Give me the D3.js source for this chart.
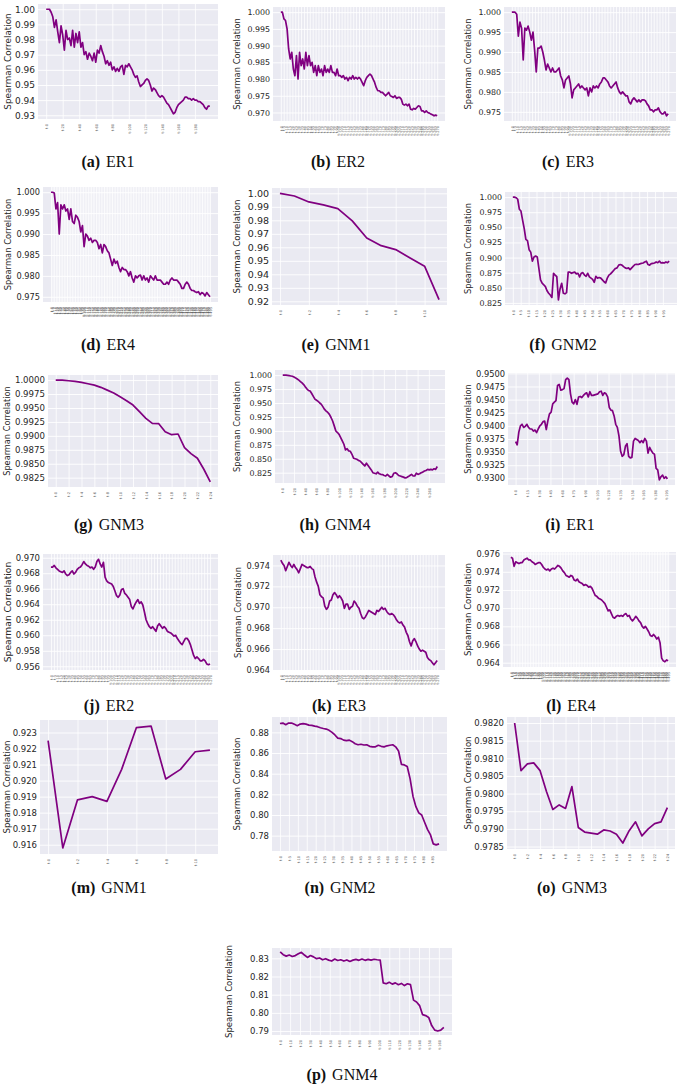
<!DOCTYPE html>
<html><head><meta charset="utf-8">
<script src="https://cdn.jsdelivr.net/npm/d3@7"></script>
<style>body{margin:0;background:#fff}svg{display:block}</style>
</head><body><svg id="c" width="685" height="1085"></svg>
<script>
// ---------- data ----------
const er1A = [1.000,1.000,1.000,0.998,0.995,0.988,0.993,0.985,0.978,0.989,0.983,0.973,0.986,0.980,0.981,0.976,0.986,0.975,0.984,0.978,0.985,0.975,0.978,0.970,0.972,0.967,0.971,0.969,0.966,0.971,0.965,0.973,0.971,0.976,0.972,0.969,0.964,0.966,0.963,0.965,0.960,0.962,0.959,0.961,0.959,0.962,0.963,0.957,0.963,0.962,0.964,0.962,0.960,0.957,0.955,0.956,0.952,0.949,0.950,0.951,0.953,0.954,0.953,0.950,0.946,0.948,0.947,0.945,0.943,0.942,0.943,0.942,0.940,0.938,0.937,0.935,0.933,0.931,0.932,0.935,0.937,0.938,0.939,0.940,0.942,0.942,0.941,0.941,0.940,0.941,0.940,0.940,0.939,0.939,0.938,0.937,0.935,0.934,0.936,0.936];
const er2B = [1.000,1.000,0.998,0.9975,0.995,0.989,0.986,0.988,0.983,0.981,0.987,0.980,0.988,0.984,0.986,0.983,0.988,0.984,0.987,0.984,0.985,0.982,0.984,0.981,0.984,0.982,0.983,0.981,0.984,0.982,0.983,0.982,0.984,0.982,0.982,0.981,0.983,0.981,0.981,0.9805,0.981,0.980,0.9805,0.9795,0.9805,0.980,0.981,0.980,0.9805,0.980,0.9805,0.980,0.979,0.978,0.9795,0.9805,0.981,0.9815,0.981,0.980,0.979,0.9775,0.9765,0.9765,0.976,0.976,0.9755,0.975,0.9755,0.976,0.975,0.9748,0.9745,0.975,0.9742,0.9745,0.9745,0.974,0.9725,0.9722,0.9725,0.972,0.9725,0.971,0.9708,0.9712,0.971,0.9715,0.972,0.9718,0.9705,0.9705,0.970,0.9705,0.970,0.9698,0.9695,0.9693,0.969,0.9692,0.969];
const er3C = [1.000,1.000,1.000,0.9995,0.994,0.9975,0.996,0.988,0.996,0.9955,0.9965,0.995,0.993,0.995,0.9905,0.985,0.991,0.991,0.9915,0.990,0.988,0.9855,0.987,0.986,0.985,0.986,0.985,0.985,0.9855,0.986,0.984,0.983,0.981,0.983,0.9835,0.984,0.982,0.9785,0.9805,0.981,0.9815,0.982,0.981,0.9815,0.981,0.9805,0.981,0.979,0.981,0.980,0.9815,0.981,0.9815,0.981,0.982,0.9825,0.9835,0.9835,0.983,0.9825,0.9815,0.981,0.9815,0.982,0.9825,0.981,0.980,0.9795,0.980,0.9795,0.979,0.979,0.9775,0.977,0.978,0.9785,0.978,0.9775,0.978,0.9775,0.978,0.978,0.9778,0.977,0.9765,0.9755,0.9755,0.975,0.9755,0.9755,0.976,0.975,0.9745,0.9745,0.975,0.974,0.9745];
const er4D = [1.000,1.000,0.9998,0.996,0.9975,0.990,0.997,0.996,0.997,0.9955,0.996,0.9935,0.996,0.993,0.9925,0.9945,0.994,0.993,0.9905,0.992,0.987,0.990,0.9895,0.9885,0.989,0.988,0.9885,0.9885,0.988,0.9865,0.9875,0.9855,0.9875,0.987,0.986,0.9855,0.984,0.9825,0.984,0.983,0.9835,0.982,0.981,0.982,0.9815,0.9815,0.981,0.980,0.981,0.9795,0.9785,0.980,0.9795,0.980,0.9802,0.979,0.980,0.979,0.9795,0.9785,0.980,0.9795,0.979,0.980,0.979,0.979,0.979,0.9785,0.978,0.978,0.9785,0.978,0.979,0.9795,0.979,0.979,0.979,0.9785,0.978,0.977,0.977,0.978,0.9785,0.978,0.977,0.9765,0.9765,0.9762,0.976,0.9762,0.9755,0.976,0.9758,0.9752,0.976,0.9755,0.975];
const gnm1E = [1.000,0.998,0.9936,0.9914,0.9887,0.9796,0.9669,0.9612,0.9583,0.9521,0.9460,0.9212];
const gnm2F = [1.000,1.000,0.999,0.9965,0.980,0.977,0.962,0.948,0.930,0.928,0.913,0.909,0.894,0.901,0.9025,0.901,0.882,0.863,0.8575,0.855,0.852,0.845,0.841,0.838,0.834,0.874,0.871,0.8685,0.830,0.848,0.8575,0.841,0.840,0.842,0.876,0.876,0.874,0.875,0.876,0.873,0.874,0.868,0.874,0.875,0.871,0.869,0.874,0.868,0.866,0.864,0.859,0.869,0.866,0.867,0.866,0.863,0.860,0.858,0.866,0.871,0.873,0.876,0.879,0.882,0.883,0.8875,0.8885,0.8875,0.885,0.883,0.882,0.883,0.880,0.883,0.8857,0.8885,0.889,0.8885,0.8895,0.8905,0.891,0.8927,0.894,0.8885,0.8875,0.890,0.8905,0.891,0.8927,0.8915,0.894,0.891,0.8915,0.891,0.8927,0.8915,0.894];
const gnm3G = [1.0000,1.0000,0.99988,0.99976,0.99958,0.99934,0.9991,0.9987,0.9982,0.9977,0.9970,0.9963,0.99552,0.99433,0.99314,0.99224,0.99218,0.99075,0.99021,0.99033,0.98788,0.98681,0.98598,0.98401,0.98174];
const gnm4H = [1.000,1.000,1.000,0.9995,0.999,0.9985,0.998,0.9965,0.995,0.993,0.991,0.9885,0.986,0.983,0.979,0.9755,0.9725,0.9715,0.967,0.962,0.957,0.955,0.953,0.950,0.9475,0.943,0.9385,0.9355,0.933,0.9296,0.924,0.9177,0.909,0.8998,0.897,0.8938,0.888,0.882,0.876,0.8658,0.868,0.864,0.8634,0.858,0.851,0.850,0.849,0.847,0.846,0.843,0.840,0.837,0.842,0.838,0.834,0.830,0.825,0.824,0.823,0.826,0.823,0.822,0.8216,0.820,0.819,0.822,0.819,0.8168,0.818,0.824,0.825,0.823,0.820,0.819,0.818,0.817,0.8157,0.8162,0.818,0.820,0.822,0.819,0.819,0.824,0.822,0.823,0.825,0.826,0.828,0.829,0.831,0.830,0.831,0.830,0.832,0.831,0.836];
const er1I = [0.9370,0.9364,0.9388,0.9400,0.9403,0.9397,0.9399,0.9403,0.9397,0.9394,0.9394,0.9390,0.9392,0.9387,0.9394,0.9400,0.9403,0.9408,0.9409,0.9393,0.9410,0.9423,0.9426,0.9442,0.9445,0.9448,0.9477,0.9479,0.9468,0.9469,0.9471,0.9488,0.9491,0.9488,0.9461,0.9445,0.9442,0.9450,0.9441,0.9455,0.9456,0.9454,0.9458,0.9461,0.9463,0.9455,0.9465,0.9458,0.9458,0.9459,0.9460,0.9461,0.9465,0.9466,0.9458,0.9463,0.9461,0.9455,0.9435,0.9430,0.9429,0.9419,0.9403,0.9397,0.9381,0.9352,0.9342,0.9345,0.9361,0.9366,0.9342,0.9339,0.9340,0.9371,0.9376,0.9374,0.9372,0.9368,0.9372,0.9368,0.9376,0.9371,0.9348,0.9359,0.9353,0.9348,0.9346,0.9319,0.9316,0.9297,0.9303,0.9306,0.9300,0.9303,0.9299];
const er2J = [0.9688,0.9688,0.9690,0.9687,0.9685,0.9683,0.9682,0.9681,0.9683,0.9679,0.9677,0.9678,0.9681,0.9683,0.9679,0.9681,0.9685,0.9687,0.9688,0.9691,0.9695,0.9692,0.9690,0.9689,0.9687,0.9688,0.9685,0.9688,0.9695,0.9698,0.9692,0.9688,0.9694,0.9675,0.9670,0.9668,0.9667,0.9666,0.9663,0.9657,0.9651,0.9649,0.9652,0.9659,0.9660,0.9654,0.9652,0.9649,0.9646,0.9637,0.9634,0.9639,0.9643,0.9646,0.9641,0.9643,0.9639,0.9630,0.9620,0.9615,0.9611,0.9609,0.9611,0.9608,0.9605,0.9612,0.9615,0.9612,0.9609,0.9611,0.9609,0.9605,0.9604,0.9603,0.9601,0.9599,0.9600,0.9596,0.9593,0.9590,0.9588,0.9592,0.9596,0.9596,0.9593,0.9588,0.9581,0.9574,0.9570,0.9572,0.9570,0.9567,0.9567,0.9569,0.9567,0.9563,0.9562,0.9563];
const er3K = [0.9745,0.9742,0.9740,0.9735,0.9739,0.9743,0.9740,0.9738,0.9741,0.9738,0.9736,0.9733,0.9737,0.9741,0.9740,0.9739,0.9738,0.9738,0.9739,0.9737,0.9736,0.9729,0.9724,0.9720,0.9712,0.9710,0.9709,0.9701,0.9698,0.9700,0.9706,0.9707,0.9712,0.9714,0.9712,0.9709,0.9711,0.9709,0.9706,0.9699,0.9703,0.9703,0.9698,0.9700,0.9701,0.9706,0.9704,0.9701,0.9699,0.9694,0.9690,0.9689,0.9691,0.9694,0.9697,0.9696,0.9695,0.9694,0.9693,0.9697,0.9696,0.9698,0.9700,0.9698,0.9699,0.9696,0.9694,0.9693,0.9694,0.9693,0.9691,0.9688,0.9686,0.9685,0.9686,0.9683,0.9681,0.9676,0.9673,0.9667,0.9663,0.9668,0.9670,0.9667,0.9663,0.9660,0.9658,0.9659,0.9658,0.9657,0.9652,0.9650,0.9649,0.9647,0.9645,0.9647,0.9649];
const er4L = [0.9756,0.9755,0.9746,0.9751,0.9750,0.9749,0.9750,0.9750,0.9753,0.9754,0.9755,0.9753,0.9753,0.9751,0.9750,0.9748,0.9749,0.9750,0.9750,0.9748,0.9745,0.9743,0.9742,0.9743,0.9741,0.9743,0.9744,0.9743,0.9745,0.9747,0.9746,0.9744,0.9741,0.9739,0.9736,0.9735,0.9734,0.9736,0.9735,0.9731,0.9730,0.9732,0.9729,0.9728,0.9727,0.9725,0.9726,0.9725,0.9723,0.9724,0.9722,0.9718,0.9714,0.9713,0.9711,0.9710,0.9709,0.9707,0.9705,0.9701,0.9697,0.9698,0.9694,0.9690,0.9689,0.9691,0.9692,0.9691,0.9692,0.9691,0.9693,0.9694,0.9691,0.9692,0.9688,0.9686,0.9688,0.9691,0.9689,0.9686,0.9684,0.9680,0.9678,0.9680,0.9677,0.9674,0.9670,0.9669,0.9671,0.9669,0.9666,0.9668,0.9662,0.9645,0.9642,0.9641,0.9643,0.9642];
const gnm1M = [0.9225,0.9158,0.9188,0.9190,0.9187,0.9207,0.9233,0.9234,0.9201,0.9207,0.9218,0.9219];
const gnm2N = [0.8886,0.889,0.8875,0.889,0.889,0.8878,0.8865,0.888,0.8885,0.888,0.887,0.8868,0.886,0.8855,0.8845,0.8838,0.8832,0.882,0.880,0.8775,0.8745,0.874,0.8725,0.872,0.8725,0.871,0.869,0.868,0.8685,0.8678,0.868,0.8665,0.866,0.866,0.8675,0.8665,0.866,0.867,0.8675,0.868,0.866,0.862,0.849,0.8485,0.847,0.835,0.818,0.808,0.802,0.800,0.793,0.786,0.781,0.772,0.771,0.772];
const gnm3O = [0.9820,0.98065,0.98084,0.98087,0.98065,0.98006,0.97955,0.97968,0.97958,0.9802,0.97904,0.97891,0.97888,0.97885,0.97897,0.97894,0.97885,0.9786,0.97895,0.9792,0.9788,0.9790,0.97915,0.9792,0.9796];
const gnm4P = [0.8335,0.8320,0.8312,0.8318,0.8310,0.8315,0.8325,0.8333,0.8318,0.8305,0.8315,0.8308,0.8298,0.8302,0.8292,0.8298,0.8290,0.8285,0.8296,0.8288,0.8292,0.8285,0.8291,0.8283,0.8290,0.8294,0.8289,0.8296,0.8289,0.8294,0.8290,0.8295,0.8292,0.8290,0.8165,0.8160,0.8168,0.8158,0.8165,0.8155,0.8162,0.8150,0.8160,0.8155,0.8070,0.8060,0.8040,0.7990,0.7985,0.7975,0.7930,0.7905,0.7900,0.7905,0.7920];

// y tick values
const yA = [0.93,0.94,0.95,0.96,0.97,0.98,0.99,1.00];
const yB = [0.970,0.975,0.980,0.985,0.990,0.995,1.000];
const yC = [0.975,0.980,0.985,0.990,0.995,1.000];
const yE = [0.92,0.93,0.94,0.95,0.96,0.97,0.98,0.99,1.00];
const yF = [0.825,0.850,0.875,0.900,0.925,0.950,0.975,1.000];
const yG = [0.9825,0.9850,0.9875,0.9900,0.9925,0.9950,0.9975,1.0000];
const yI = [0.9300,0.9325,0.9350,0.9375,0.9400,0.9425,0.9450,0.9475,0.9500];
const yJ = [0.956,0.958,0.960,0.962,0.964,0.966,0.968,0.970];
const yK = [0.964,0.966,0.968,0.970,0.972,0.974];
const yL = [0.964,0.966,0.968,0.970,0.972,0.974,0.976];
const yM = [0.916,0.917,0.918,0.919,0.920,0.921,0.922,0.923];
const yN = [0.78,0.80,0.82,0.84,0.86,0.88];
const yO = [0.9785,0.9790,0.9795,0.9800,0.9805,0.9810,0.9815,0.9820];
const yP = [0.79,0.80,0.81,0.82,0.83];

// captions
const letters = ['a','b','c','d','e','f','g','h','i','j','k','l','m','n','o','p'];
const names = ['ER1','ER2','ER3','ER4','GNM1','GNM2','GNM3','GNM4','ER1','ER2','ER3','ER4','GNM1','GNM2','GNM3','GNM4'];
const series = [er1A,er2B,er3C,er4D,gnm1E,gnm2F,gnm3G,gnm4H,er1I,er2J,er3K,er4L,gnm1M,gnm2N,gnm3O,gnm4P];
const yTickSets = [yA,yB,yC,yC,yE,yF,yG,yF,yI,yJ,yK,yL,yM,yN,yO,yP];
const yFormats = ['.2f','.3f','.3f','.3f','.2f','.3f','.4f','.3f','.4f','.3f','.3f','.3f','.3f','.2f','.4f','.2f'];
// x axis: last time step, tick spacing, last tick
const tMax   = [198,270,270,495,11,99,24,275,196,270,270,495,11,89,24,165];
const xEvery = [20,5,5,5,2,5,2,20,15,5,5,5,2,5,2,10];
const xLast  = [180,270,270,495,10,95,24,260,195,270,270,495,10,85,24,160];

// ---------- layout ----------
const layout = [
 {rect:[38,4,218,119],  tfs:9,   lfs:8.8, labX:8,   cap:[108,167]},
 {rect:[273,7,445,121], tfs:7.9, lfs:8.4, labX:237, cap:[338,167]},
 {rect:[504,7,676,121], tfs:7.9, lfs:8.3, labX:468, cap:[568,167]},
 {rect:[43,187,218,302],tfs:8.2, lfs:8.4, labX:8,   cap:[108,350]},
 {rect:[272,188,447,305],tfs:9.5,lfs:8.6, labX:237, cap:[336,350]},
 {rect:[505,192,677,305],tfs:7.9,lfs:8.3, labX:468, cap:[563,350]},
 {rect:[48,375,218,487],tfs:8.6, lfs:8.2, labX:7,   cap:[109,530]},
 {rect:[275,370,445,483],tfs:7.9,lfs:8.3, labX:237, cap:[335,530]},
 {rect:[508,373,675,485],tfs:8.3,lfs:8.2, labX:468, cap:[570,530]},
 {rect:[43,554,218,670],tfs:8.5, lfs:9.2, labX:7,   cap:[109,711]},
 {rect:[273,555,445,670],tfs:8.2,lfs:8.3, labX:238, cap:[339,711]},
 {rect:[503,552,676,667],tfs:8.2,lfs:8.5, labX:468, cap:[571,711]},
 {rect:[40,720,218,854],tfs:8.5, lfs:8.5, labX:7,   cap:[109,893]},
 {rect:[272,717,447,851],tfs:8.5,lfs:8.5, labX:237, cap:[340,893]},
 {rect:[507,717,675,849],tfs:8.5,lfs:8.5, labX:468, cap:[572,893]},
 {rect:[272,948,452,1035],tfs:8.5,lfs:8.5,labX:229, cap:[342,1080]}
];

const svg = d3.select('#c');
const SANS = 'DejaVu Sans, sans-serif';

series.forEach((vals, k) => {
  const L = layout[k];
  const [x0,y0,x1,y1] = L.rect, w = x1-x0, h = y1-y0;
  const T = tMax[k], n = vals.length;
  const g = svg.append('g').attr('transform', `translate(${x0},${y0})`);
  g.append('rect').attr('width', w).attr('height', h).attr('fill', '#EAEAF2');

  const x = d3.scaleLinear().domain([-0.05*T, 1.05*T]).range([0, w]);
  const [lo, hi] = d3.extent(vals); const pad = (hi-lo)*0.05;
  const y = d3.scaleLinear().domain([lo-pad, hi+pad]).range([h, 0]);
  const xt = d3.range(0, xLast[k] + 1e-9, xEvery[k]);
  const tol = (hi-lo)*0.01;
  const yt = yTickSets[k].filter(v => v >= lo-pad-tol && v <= hi+pad+tol);

  // grid
  g.append('g').attr('transform', `translate(0,${h})`)
    .call(d3.axisBottom(x).tickValues(xt).tickSize(-h).tickFormat(''))
    .call(a => { a.select('.domain').remove(); a.selectAll('line').attr('stroke','#fff').attr('stroke-width',0.8); });
  g.append('g')
    .call(d3.axisLeft(y).tickValues(yt).tickSize(-w).tickFormat(''))
    .call(a => { a.select('.domain').remove(); a.selectAll('line').attr('stroke','#fff').attr('stroke-width',0.9); });

  // y tick labels
  g.append('g')
    .call(d3.axisLeft(y).tickValues(yt).tickSize(0).tickPadding(3).tickFormat(d3.format(yFormats[k])))
    .call(a => { a.select('.domain').remove();
      a.selectAll('text').attr('fill','#262626').style('font-family',SANS).style('font-size',L.tfs+'px'); });

  // x tick labels (tiny, rotated)
  g.append('g').attr('transform', `translate(0,${h})`)
    .call(d3.axisBottom(x).tickValues(xt).tickSize(0).tickFormat(v => 't-' + v))
    .call(a => { a.select('.domain').remove();
      a.selectAll('text').attr('y',0).attr('x',-5).attr('dy','0.35em')
        .attr('transform','rotate(-90)').style('text-anchor','end')
        .attr('fill','#555').style('font-family',SANS).style('font-size','3.6px'); });

  // line
  const line = d3.line().x((d,i) => x(i*T/(n-1))).y(d => y(d));
  g.append('path').datum(vals).attr('d', line).attr('fill','none')
    .attr('stroke','#800080').attr('stroke-width',1.7).attr('stroke-linejoin','round');

  // y axis label
  svg.append('text').attr('transform', `translate(${L.labX},${y0+h/2}) rotate(-90)`)
    .attr('text-anchor','middle').attr('dominant-baseline','central')
    .attr('fill','#262626').style('font-family',SANS).style('font-size',L.lfs+'px')
    .text('Spearman Correlation');

  // caption
  const cap = svg.append('text').attr('x', L.cap[0]).attr('y', L.cap[1]).attr('text-anchor','middle')
    .style('font-family','Liberation Serif, serif').style('font-size','16px').attr('fill','#111');
  cap.append('tspan').style('font-weight','bold').text('(' + letters[k] + ')');
  cap.append('tspan').attr('dx', 6).text(names[k]);
});
// bring captions above all panels
svg.selectAll('text').filter(function(){ return this.parentNode === svg.node(); }).raise();
</script></body></html>
